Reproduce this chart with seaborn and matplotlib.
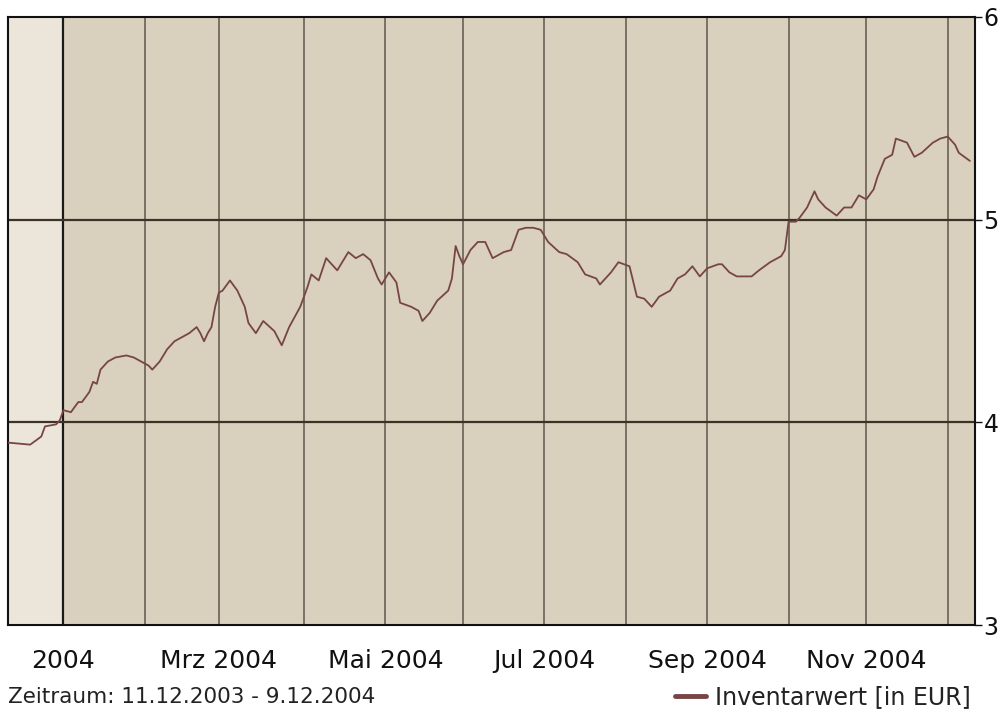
import numpy as np
import pandas as pd
import matplotlib
matplotlib.use("Agg")
import matplotlib.pyplot as plt
import seaborn as sns

dates = [
    "2003-12-11", "2003-12-19", "2003-12-24", "2003-12-25", "2003-12-30", "2003-12-31",
    "2004-01-01", "2004-01-05", "2004-01-07", "2004-01-08", "2004-01-12", "2004-01-13",
    "2004-01-14", "2004-01-15", "2004-01-19", "2004-01-21", "2004-01-26", "2004-01-28",
    "2004-01-30", "2004-02-03", "2004-02-04", "2004-02-06", "2004-02-10", "2004-02-12",
    "2004-02-16", "2004-02-18", "2004-02-20", "2004-02-23", "2004-02-24", "2004-02-25",
    "2004-02-26", "2004-02-27", "2004-03-01", "2004-03-02", "2004-03-04", "2004-03-08",
    "2004-03-10", "2004-03-11", "2004-03-15", "2004-03-17", "2004-03-22", "2004-03-24",
    "2004-03-26", "2004-03-31", "2004-04-02", "2004-04-05", "2004-04-07", "2004-04-09",
    "2004-04-14", "2004-04-19", "2004-04-21", "2004-04-23", "2004-04-27", "2004-04-29",
    "2004-04-30", "2004-05-04", "2004-05-06", "2004-05-07", "2004-05-12", "2004-05-14",
    "2004-05-17", "2004-05-19", "2004-05-21", "2004-05-26", "2004-05-27", "2004-05-28",
    "2004-05-31", "2004-06-01", "2004-06-03", "2004-06-07", "2004-06-09", "2004-06-11",
    "2004-06-16", "2004-06-18", "2004-06-22", "2004-06-24", "2004-06-28", "2004-06-30",
    "2004-07-02", "2004-07-07", "2004-07-09", "2004-07-14", "2004-07-16", "2004-07-21",
    "2004-07-22", "2004-07-27", "2004-07-29", "2004-08-03", "2004-08-05", "2004-08-09",
    "2004-08-11", "2004-08-13", "2004-08-18", "2004-08-20", "2004-08-24", "2004-08-26",
    "2004-08-30", "2004-09-01", "2004-09-06", "2004-09-07", "2004-09-09", "2004-09-13",
    "2004-09-17", "2004-09-21", "2004-09-24", "2004-09-29", "2004-09-30", "2004-10-01",
    "2004-10-05", "2004-10-06", "2004-10-08", "2004-10-12", "2004-10-13", "2004-10-15",
    "2004-10-20", "2004-10-22", "2004-10-26", "2004-10-28", "2004-11-01", "2004-11-03",
    "2004-11-04", "2004-11-08", "2004-11-10", "2004-11-11", "2004-11-16", "2004-11-18",
    "2004-11-22", "2004-11-25", "2004-11-29", "2004-12-01", "2004-12-03", "2004-12-06",
    "2004-12-09",
]
values = [
    3.90, 3.89, 3.93, 3.98, 3.99, 4.01,
    4.06, 4.05, 4.10, 4.10, 4.15, 4.20,
    4.19, 4.26, 4.30, 4.32, 4.33, 4.32,
    4.30, 4.28, 4.26, 4.30, 4.36, 4.40,
    4.42, 4.44, 4.47, 4.44, 4.40, 4.44,
    4.47, 4.57, 4.64, 4.65, 4.70, 4.65,
    4.57, 4.49, 4.44, 4.50, 4.45, 4.38,
    4.47, 4.57, 4.67, 4.73, 4.70, 4.81,
    4.75, 4.84, 4.81, 4.83, 4.80, 4.71,
    4.68, 4.74, 4.69, 4.59, 4.57, 4.55,
    4.50, 4.54, 4.60, 4.65, 4.71, 4.87,
    4.82, 4.78, 4.85, 4.89, 4.89, 4.81,
    4.84, 4.85, 4.95, 4.96, 4.96, 4.95,
    4.89, 4.84, 4.83, 4.79, 4.73, 4.71,
    4.68, 4.74, 4.79, 4.77, 4.62, 4.61,
    4.57, 4.62, 4.65, 4.71, 4.73, 4.77,
    4.72, 4.76, 4.78, 4.78, 4.74, 4.72,
    4.72, 4.75, 4.79, 4.82, 4.85, 4.99,
    4.99, 5.01, 5.06, 5.14, 5.10, 5.06,
    5.02, 5.06, 5.06, 5.12, 5.10, 5.15,
    5.21, 5.30, 5.32, 5.40, 5.38, 5.31,
    5.33, 5.38, 5.40, 5.41, 5.37, 5.33,
    5.29,
]

start_date = "2003-12-11"
month_starts = ["2004-01-01", "2004-02-01", "2004-03-01", "2004-04-01", "2004-05-01", "2004-06-01",
                "2004-07-01", "2004-08-01", "2004-09-01", "2004-10-01", "2004-11-01", "2004-12-01"]
month_labels = ["2004", "", "Mrz 2004", "", "Mai 2004", "", "Jul 2004", "", "Sep 2004", "", "Nov 2004", ""]
y_ticks = [3, 4, 5, 6]

sns.set_style("white")
plt.rcParams['font.family'] = ['DejaVu Sans']

# x-Achse als Handelstag-Index (Mo-Fr), wie im Originalchart
df = pd.DataFrame({"Datum": pd.to_datetime(dates), "Inventarwert": values})
df["Handelstag"] = np.busday_count(start_date, df["Datum"].values.astype("datetime64[D]"))
first_bdays = np.busday_offset(np.array(month_starts, dtype="datetime64[D]"), 0, roll="forward")
month_pos = np.busday_count(start_date, first_bdays)

fig = plt.figure(figsize=(9.98, 7.22), dpi=100)
ax = fig.add_axes([0.008, 0.1343, 0.969, 0.8422])
ax.set_facecolor("#d9d0be")

# heller Bereich vor 2004
ax.axvspan(0, month_pos[0], color="#ece6da", zorder=0)

for i, p in enumerate(month_pos):
    ax.axvline(p, color="#1a1a1a" if i == 0 else "#5f574a", lw=1.6 if i == 0 else 1.1, zorder=1)
for yv in [4, 5]:
    ax.axhline(yv, color="#3b3325", lw=1.6, zorder=1)

sns.lineplot(data=df, x="Handelstag", y="Inventarwert", color="#774545", lw=1.3,
             ax=ax, label="Inventarwert [in EUR]", zorder=3)

ax.set_xlim(0, 261.4)
ax.set_ylim(3, 6)
ax.set_xlabel("")
ax.set_ylabel("")

ax.yaxis.tick_right()
ax.set_yticks(y_ticks)
ax.tick_params(axis="y", which="major", length=5, width=1, direction="out", labelsize=17, pad=1, colors="#111111")

# Jan 2004 als langer Haupt-Tick, übrige Monate als kurze Neben-Ticks
ax.set_xticks([month_pos[0]])
ax.set_xticklabels([month_labels[0]])
ax.set_xticks(month_pos[1:], minor=True)
ax.set_xticklabels(month_labels[1:], minor=True)
ax.tick_params(axis="x", which="major", length=17, width=1.2, direction="out", labelsize=18, pad=0, colors="#111111")
ax.tick_params(axis="x", which="minor", length=8, width=1, direction="out", labelsize=18, pad=9, colors="#111111")

for s in ax.spines.values():
    s.set_visible(True)
    s.set_color("#111111")
    s.set_linewidth(1.5)

fig.text(0.008, 1 - 697 / 722, "Zeitraum: 11.12.2003 - 9.12.2004", va="center", ha="left",
         fontsize=15.5, color="#222222")

leg = ax.legend(loc="center right", bbox_to_anchor=(0.973, 1 - 697 / 722), bbox_transform=fig.transFigure,
                frameon=False, fontsize=17, handlelength=1.3, handletextpad=0.4, borderaxespad=0, borderpad=0)
for t in leg.get_texts():
    t.set_color("#222222")
for h in leg.get_lines():
    h.set_linewidth(3.5)

fig.savefig("out.png", dpi=100, facecolor="white")
